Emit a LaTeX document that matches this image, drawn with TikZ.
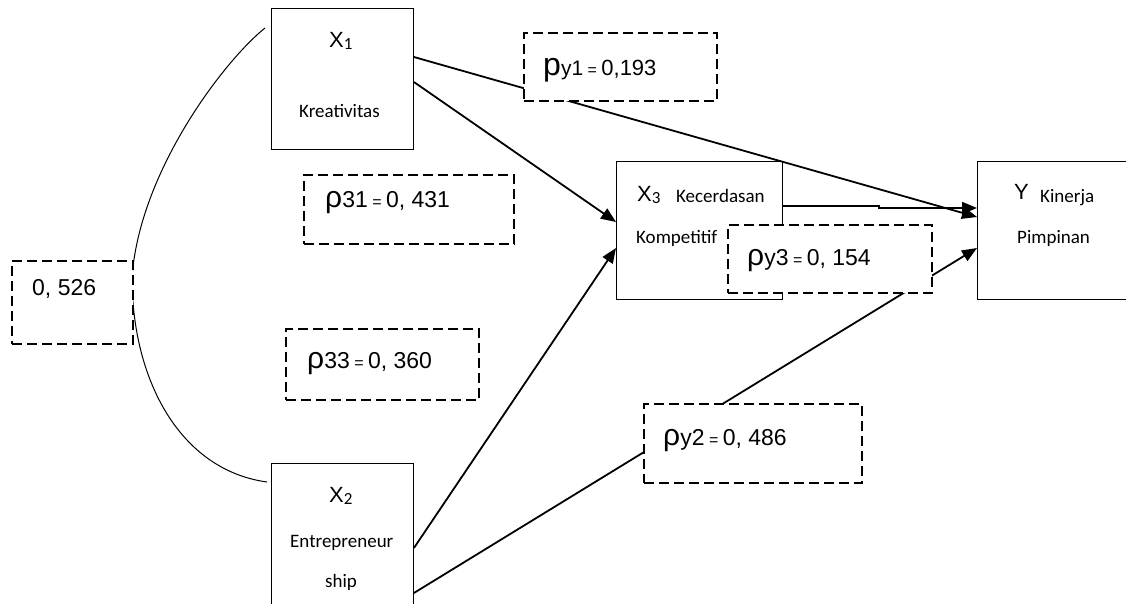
\documentclass[tikz,border=0pt]{standalone}
\usepackage{fontspec}
\setmainfont{Liberation Sans}
\newfontfamily\calib{Carlito}
\usetikzlibrary{arrows.meta,calc}
\newcommand{\fs}[1]{\fontsize{#1}{#1}\selectfont}
\newcommand{\vsub}[1]{\raisebox{-2.5pt}{\calib\fs{17}#1}}
\newcommand{\coef}[3]{\fs{30}#1\fs{23}#2\fs{16} = \fs{23}#3}
\tikzset{
  varbox/.style={draw, line width=0.9pt, fill=white, inner sep=0pt, anchor=north west},
  coefbox/.style={draw, line width=2pt, dash pattern=on 10pt off 5pt, fill=white, inner sep=0pt, anchor=north west},
  txt/.style={inner sep=0pt, anchor=base west},
  path/.style={line width=1.8pt, -{Triangle[length=15pt,width=12pt]}},
  corr/.style={line width=1pt}
}
\begin{document}
\begin{tikzpicture}[x=1pt,y=-1pt]
\useasboundingbox (0,0) rectangle (1126,603);
% variable boxes
\node[varbox, minimum width=142pt, minimum height=141pt] (x1) at (271,8) {};
\node[varbox, minimum width=142pt, minimum height=170pt] (x2) at (271,463) {};
\node[varbox, minimum width=166pt, minimum height=138pt] (x3) at (616,161) {};
\node[varbox, minimum width=170pt, minimum height=138pt] (y) at (977,161) {};
% box texts
\node[txt] (x1a) at (329,47) {\fs{22}X\vsub{1}};
\node[txt] (x1b) at (299,117) {\calib\fs{19}Kreativitas};
\node[txt] (x2a) at (329,502) {\fs{22}X\vsub{2}};
\node[txt] (x2b) at (290,547) {\calib\fs{19}Entrepreneur};
\node[txt, anchor=base] (x2c) at (341,587) {\calib\fs{19}ship};
\node[txt] (x3a) at (637,201) {\fs{22}X\vsub{3}};
\node[txt] (x3b) at (676,202) {\calib\fs{19}Kecerdasan};
\node[txt] (x3c) at (636,243) {\calib\fs{19}Kompetitif};
\node[txt] (ya) at (1014,199) {\fs{22}Y};
\node[txt] (yb) at (1040,202) {\calib\fs{19}Kinerja};
\node[txt] (yc) at (1017,243) {\calib\fs{19}Pimpinan};
% correlation curve
\coordinate (c1) at ($(x1.north west)+(-6,20)$);
\coordinate (c2) at ($(x2.north west)+(-4,19)$);
\draw[corr] (c1) .. controls (225,60) and (140,170) .. (132,277) .. controls (132,380) and (180,470) .. (c2);
% paths
\draw[path] ($(x1.north east)+(0,49)$) -- ($(y.north west)+(0,56)$);
\draw[path] ($(x1.north east)+(0,74)$) -- ($(x3.north west)+(0,61)$);
\draw[path] ($(x2.north east)+(0,85)$) -- ($(x3.north west)+(0,87)$);
\draw[path] ($(x2.north east)+(0,130)$) -- ($(y.north west)+(0,87)$);
\draw[path] ($(x3.north east)+(0,45)$) -- ($(x3.north east)+(96,45)$) |- ($(y.north west)+(0,47)$);
% coefficient boxes
\node[coefbox, minimum width=121pt, minimum height=83pt] (c526) at (11,260) {};
\node[coefbox, minimum width=210pt, minimum height=69pt] (c31) at (303,174) {};
\node[coefbox, minimum width=193pt, minimum height=71pt] (c33) at (285,328) {};
\node[coefbox, minimum width=193pt, minimum height=68pt] (cy1) at (523,32) {};
\node[coefbox, minimum width=204pt, minimum height=68pt] (cy3) at (727,224) {};
\node[coefbox, minimum width=218pt, minimum height=79pt] (cy2) at (643,403) {};
% coefficient texts
\node[txt] (t526) at (32,295) {\fs{23}0, 526};
\node[txt] (t31) at (325,207) {\coef{ρ}{31}{0, 431}};
\node[txt] (t33) at (307,368) {\coef{ρ}{33}{0, 360}};
\node[txt] (ty1) at (543,75) {\fs{32}p\fs{21}y1\fs{16} = \fs{22}0,193};
\node[txt] (ty3) at (747,265) {\coef{ρ}{y3}{0, 154}};
\node[txt] (ty2) at (663,445) {\coef{ρ}{y2}{0, 486}};
\end{tikzpicture}
\end{document}
